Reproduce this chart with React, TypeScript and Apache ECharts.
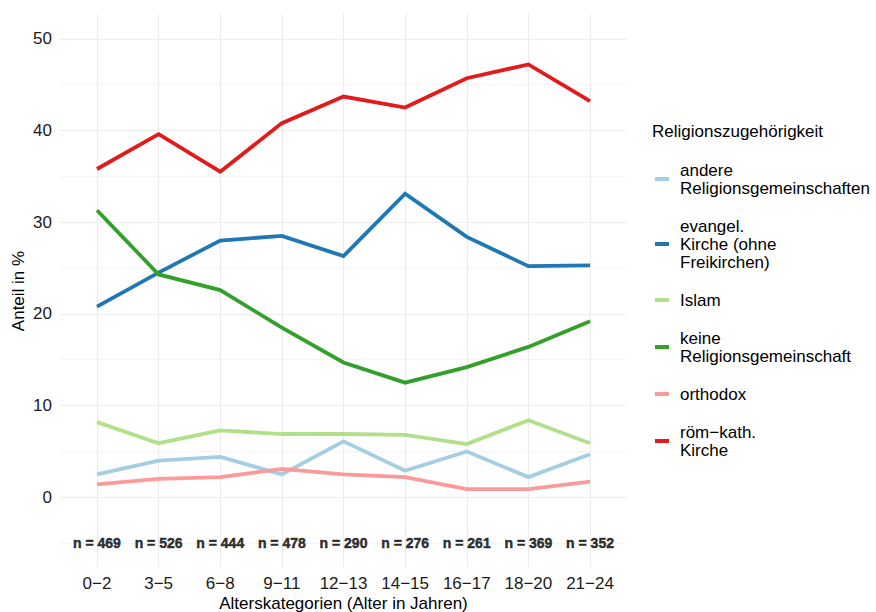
import React, { useEffect, useRef } from "react";
import * as echarts from "echarts";

const categories = ["0−2", "3−5", "6−8", "9−11", "12−13", "14−15", "16−17", "18−20", "21−24"];
const nCounts = [469, 526, 444, 478, 290, 276, 261, 369, 352];

const seriesNames = [
  "andere Religionsgemeinschaften",
  "evangel. Kirche (ohne Freikirchen)",
  "Islam",
  "keine Religionsgemeinschaft",
  "orthodox",
  "röm−kath. Kirche",
];
const legendLabels = [
  "andere\nReligionsgemeinschaften",
  "evangel.\nKirche (ohne\nFreikirchen)",
  "Islam",
  "keine\nReligionsgemeinschaft",
  "orthodox",
  "röm−kath.\nKirche",
];
const seriesColors = ["#A6CEE3", "#1F78B4", "#B2DF8A", "#33A02C", "#FB9A99", "#E31A1C"];

const andere = [2.5, 4.0, 4.4, 2.5, 6.1, 2.9, 5.0, 2.2, 4.7];
const evangel = [20.8, 24.5, 28.0, 28.5, 26.3, 33.1, 28.4, 25.2, 25.3];
const islam = [8.2, 5.9, 7.3, 6.9, 6.9, 6.8, 5.8, 8.4, 5.9];
const keine = [31.3, 24.3, 22.6, 18.5, 14.7, 12.5, 14.2, 16.4, 19.2];
const orthodox = [1.4, 2.0, 2.2, 3.1, 2.5, 2.2, 0.9, 0.9, 1.7];
const roemKath = [35.8, 39.6, 35.5, 40.8, 43.7, 42.5, 45.7, 47.2, 43.2];
const seriesValues = [andere, evangel, islam, keine, orthodox, roemKath];

const nLabelY = -5;
const yMin = -7.6;
const yMax = 52.7;
const xMin = -0.6;
const xMax = 8.6;

const FONT = "'Liberation Sans', Arial, Helvetica, sans-serif";

export default function App() {
  const ref = useRef<HTMLDivElement>(null);

  useEffect(() => {
    if (!ref.current) return;
    const chart = echarts.init(ref.current, undefined, { renderer: "svg" });

    const lineSeries = seriesNames.map((name, s) => ({
      type: "line",
      name,
      xAxisIndex: 0,
      yAxisIndex: 0,
      data: categories.map((_, i) => [i, seriesValues[s][i]]),
      showSymbol: false,
      symbol: "none",
      lineStyle: { width: 3.8, color: seriesColors[s], cap: "butt", join: "miter" },
      itemStyle: { color: seriesColors[s] },
      z: 3 + s,
    }));

    const nSeries = {
      type: "scatter",
      name: "n",
      xAxisIndex: 0,
      yAxisIndex: 0,
      data: categories.map((_, i) => [i, nLabelY]),
      symbolSize: 0,
      silent: true,
      itemStyle: { color: "#000" },
      label: {
        show: true,
        position: "inside",
        formatter: (p: any) => "n = " + nCounts[p.dataIndex],
        fontFamily: FONT,
        fontWeight: "bold",
        fontSize: 14,
        color: "#000",
        textBorderWidth: 0.5,
        textBorderColor: "#000",
      },
      z: 10,
    };

    chart.setOption({
      animation: false,
      backgroundColor: "#ffffff",
      textStyle: { fontFamily: FONT },
      grid: { left: 60, right: 249, top: 14, bottom: 45, containLabel: false },
      xAxis: [
        {
          type: "value",
          min: xMin,
          max: xMax,
          splitNumber: 9,
          axisLine: { show: false },
          axisTick: { show: false },
          axisLabel: {
            show: true,
            margin: 8,
            fontSize: 17,
            color: "#1a1a1a",
            fontFamily: FONT,
            showMinLabel: false,
            showMaxLabel: false,
            formatter: (v: number) =>
              Number.isInteger(v) && v >= 0 && v < categories.length ? categories[v] : "",
          },
          splitLine: {
            show: true,
            showMinLine: false,
            showMaxLine: false,
            lineStyle: { color: "#ebebeb", width: 1.1 },
          },
        },
      ],
      yAxis: [
        {
          type: "value",
          min: yMin,
          max: yMax,
          splitNumber: 6,
          axisLine: { show: false },
          axisTick: { show: false },
          axisLabel: {
            show: true,
            margin: 8,
            fontSize: 17,
            color: "#1a1a1a",
            fontFamily: FONT,
            showMinLabel: false,
            showMaxLabel: false,
            formatter: (v: number) => (Math.abs(v % 10) < 1e-9 ? String(v) : ""),
          },
          splitLine: {
            show: true,
            showMinLine: false,
            showMaxLine: false,
            lineStyle: { color: "#ebebeb", width: 1.1 },
          },
        },
        {
          type: "value",
          min: yMin,
          max: yMax,
          splitNumber: 12,
          axisLine: { show: false },
          axisTick: { show: false },
          axisLabel: { show: false },
          splitLine: {
            show: true,
            showMinLine: false,
            showMaxLine: false,
            lineStyle: { color: "#efefef", width: 0.7 },
          },
        },
      ],
      legend: {
        show: true,
        orient: "vertical",
        left: 655,
        top: 161,
        padding: 0,
        itemGap: 20,
        itemWidth: 14,
        itemHeight: 4,
        icon: "rect",
        data: seriesNames,
        formatter: (name: string) => legendLabels[seriesNames.indexOf(name)],
        textStyle: {
          fontFamily: FONT,
          fontSize: 17,
          lineHeight: 18,
          color: "#000",
          padding: [0, 0, 0, 6],
        },
        selectedMode: false,
      },
      graphic: [
        {
          type: "text",
          x: 652,
          y: 131,
          style: {
            text: "Religionszugehörigkeit",
            fontFamily: FONT,
            fontSize: 17,
            fill: "#000",
            textAlign: "left",
            textVerticalAlign: "middle",
          },
        },
        {
          type: "text",
          x: 343.5,
          y: 603,
          style: {
            text: "Alterskategorien (Alter in Jahren)",
            fontFamily: FONT,
            fontSize: 17,
            fill: "#000",
            textAlign: "center",
            textVerticalAlign: "middle",
          },
        },
        {
          type: "text",
          x: 18,
          y: 291,
          rotation: Math.PI / 2,
          style: {
            text: "Anteil in %",
            fontFamily: FONT,
            fontSize: 17,
            fill: "#000",
            textAlign: "center",
            textVerticalAlign: "middle",
          },
        },
      ],
      series: [...lineSeries, nSeries],
    });

    return () => {
      chart.dispose();
    };
  }, []);

  return (
    <div
      ref={ref}
      style={{ position: "fixed", left: 0, top: 0, width: 876, height: 612, background: "#fff" }}
    />
  );
}
